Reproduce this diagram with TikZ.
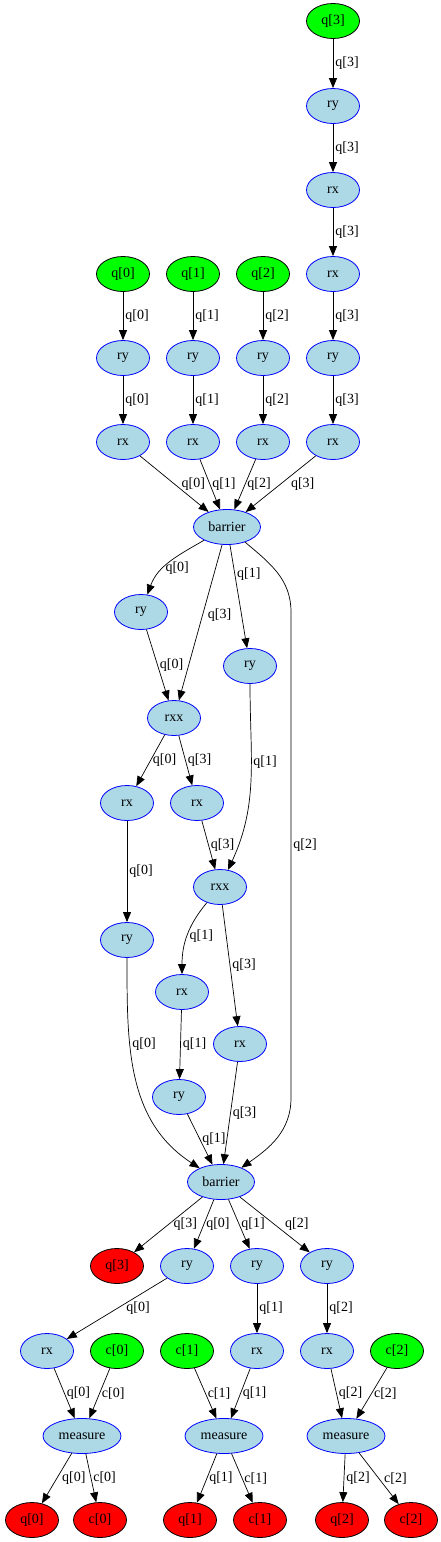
\documentclass[tikz,border=0pt]{standalone}
\usepackage{fontspec}
\setmainfont{Liberation Serif}
\usetikzlibrary{shapes.geometric,arrows.meta}
\definecolor{gatefill}{RGB}{173,216,230}
\definecolor{infill}{RGB}{0,255,0}
\definecolor{outfill}{RGB}{255,0,0}

\begin{document}
\begin{tikzpicture}[x=1pt, y=1pt, font=\fontsize{14}{16}\selectfont,
  op/.style={ellipse, minimum width=53pt, minimum height=35pt, inner sep=0pt, line width=0.8pt},
  gate/.style={op, draw=blue, fill=gatefill},
  qin/.style={op, draw=black, fill=infill},
  qout/.style={op, draw=black, fill=outfill},
  wire/.style={-{Triangle[length=10pt,width=8pt]}, line width=0.7pt},
  lbl/.style={anchor=west, inner sep=2pt}]
\useasboundingbox (0,0) rectangle (441,-1542);
\node [qin] (q3in) at (333,-21) {q[3]};
\node [gate] (ry3a) at (333,-106) {ry};
\node [gate] (rx3a) at (333,-190) {rx};
\node [gate] (rx3b) at (333,-274) {rx};
\node [qin] (q0in) at (123,-274) {q[0]};
\node [qin] (q1in) at (193,-274) {q[1]};
\node [qin] (q2in) at (263,-274) {q[2]};
\node [gate] (ry0) at (123,-358) {ry};
\node [gate] (ry1) at (193,-358) {ry};
\node [gate] (ry2) at (263,-358) {ry};
\node [gate] (ry3b) at (333,-358) {ry};
\node [gate] (rx0) at (123,-442) {rx};
\node [gate] (rx1) at (193,-442) {rx};
\node [gate] (rx2) at (263,-442) {rx};
\node [gate] (rx3c) at (333,-442) {rx};
\node [gate, minimum width=67pt] (bar1) at (227,-527) {barrier};
\node [gate] (ry0b) at (141,-612) {ry};
\node [gate] (ry1b) at (250,-666) {ry};
\node [gate] (rxx1) at (174,-718) {rxx};
\node [gate] (rx0b) at (127,-803) {rx};
\node [gate] (rx3d) at (197,-803) {rx};
\node [gate] (rxx2) at (220,-887) {rxx};
\node [gate] (ry0c) at (127,-940) {ry};
\node [gate] (rx1b) at (182,-992) {rx};
\node [gate] (rx3e) at (240,-1044) {rx};
\node [gate] (ry1c) at (179,-1097) {ry};
\node [gate, minimum width=67pt] (bar2) at (221,-1182) {barrier};
\node [qout] (q3out) at (117,-1266) {q[3]};
\node [gate] (ry0d) at (187,-1266) {ry};
\node [gate] (ry1d) at (257,-1266) {ry};
\node [gate] (ry2b) at (327,-1266) {ry};
\node [gate] (rx0c) at (47,-1351) {rx};
\node [qin] (c0in) at (117,-1351) {c[0]};
\node [qin] (c1in) at (187,-1351) {c[1]};
\node [gate] (rx1c) at (257,-1351) {rx};
\node [gate] (rx2b) at (327,-1351) {rx};
\node [qin] (c2in) at (397,-1351) {c[2]};
\node [gate, minimum width=78pt] (meas0) at (82,-1436) {measure};
\node [gate, minimum width=78pt] (meas1) at (224,-1436) {measure};
\node [gate, minimum width=78pt] (meas2) at (346,-1436) {measure};
\node [qout] (q0out) at (32,-1520) {q[0]};
\node [qout] (c0out) at (100,-1520) {c[0]};
\node [qout] (q1out) at (190,-1520) {q[1]};
\node [qout] (c1out) at (260,-1520) {c[1]};
\node [qout] (q2out) at (342,-1520) {q[2]};
\node [qout] (c2out) at (411,-1520) {c[2]};
\coordinate (q2top) at (291,-612);
\coordinate (q2bot) at (291,-1098);

\draw [wire] (q3in) -- node[lbl]{q[3]} (ry3a);
\draw [wire] (ry3a) -- node[lbl]{q[3]} (rx3a);
\draw [wire] (rx3a) -- node[lbl]{q[3]} (rx3b);
\draw [wire] (rx3b) -- node[lbl]{q[3]} (ry3b);
\draw [wire] (ry3b) -- node[lbl]{q[3]} (rx3c);
\draw [wire] (q0in) -- node[lbl]{q[0]} (ry0);
\draw [wire] (ry0) -- node[lbl]{q[0]} (rx0);
\draw [wire] (q1in) -- node[lbl]{q[1]} (ry1);
\draw [wire] (ry1) -- node[lbl]{q[1]} (rx1);
\draw [wire] (q2in) -- node[lbl]{q[2]} (ry2);
\draw [wire] (ry2) -- node[lbl]{q[2]} (rx2);
\draw [wire] (rx0) -- node[lbl, xshift=5pt]{q[0]} (bar1);
\draw [wire] (rx1) -- node[lbl]{q[1]} (bar1);
\draw [wire] (rx2) -- node[lbl]{q[2]} (bar1);
\draw [wire] (rx3c) -- node[lbl, xshift=8pt]{q[3]} (bar1);
\draw [wire] (bar1) to[out=-150, in=70] node[lbl, pos=0.62]{q[0]} (ry0b);
\draw [wire] (bar1) -- node[lbl, pos=0.45, xshift=3pt]{q[3]} (rxx1);
\draw [wire] (bar1) -- node[lbl, pos=0.28]{q[1]} (ry1b);
\draw [wire] (bar1) to[out=-40, in=90] (q2top) -- node[lbl, pos=0.48]{q[2]} (q2bot) to[out=-90, in=35] (bar2);
\draw [wire] (ry0b) -- node[lbl]{q[0]} (rxx1);
\draw [wire] (ry1b) to[out=-90, in=65] node[lbl, pos=0.4]{q[1]} (rxx2);
\draw [wire] (rxx1) -- node[lbl]{q[0]} (rx0b);
\draw [wire] (rxx1) -- node[lbl]{q[3]} (rx3d);
\draw [wire] (rx0b) -- node[lbl]{q[0]} (ry0c);
\draw [wire] (rx3d) -- node[lbl]{q[3]} (rxx2);
\draw [wire] (rxx2) to[out=-130, in=90] node[lbl]{q[1]} (rx1b);
\draw [wire] (rxx2) -- node[lbl]{q[3]} (rx3e);
\draw [wire] (rx1b) -- node[lbl]{q[1]} (ry1c);
\draw [wire] (ry0c) to[out=-90, in=147] node[lbl, pos=0.35]{q[0]} (bar2);
\draw [wire] (rx3e) -- node[lbl]{q[3]} (bar2);
\draw [wire] (ry1c) -- node[lbl]{q[1]} (bar2);
\draw [wire] (bar2) -- node[lbl, xshift=3pt]{q[3]} (q3out);
\draw [wire] (bar2) -- node[lbl]{q[0]} (ry0d);
\draw [wire] (bar2) -- node[lbl]{q[1]} (ry1d);
\draw [wire] (bar2) -- node[lbl, xshift=8pt]{q[2]} (ry2b);
\draw [wire] (ry0d) -- node[lbl, xshift=7pt]{q[0]} (rx0c);
\draw [wire] (ry1d) -- node[lbl]{q[1]} (rx1c);
\draw [wire] (ry2b) -- node[lbl]{q[2]} (rx2b);
\draw [wire] (rx0c) -- node[lbl]{q[0]} (meas0);
\draw [wire] (c0in) -- node[lbl]{c[0]} (meas0);
\draw [wire] (c1in) -- node[lbl]{c[1]} (meas1);
\draw [wire] (rx1c) -- node[lbl]{q[1]} (meas1);
\draw [wire] (rx2b) -- node[lbl]{q[2]} (meas2);
\draw [wire] (c2in) -- node[lbl]{c[2]} (meas2);
\draw [wire] (meas0) -- node[lbl, xshift=3pt]{q[0]} (q0out);
\draw [wire] (meas0) -- node[lbl]{c[0]} (c0out);
\draw [wire] (meas1) -- node[lbl]{q[1]} (q1out);
\draw [wire] (meas1) -- node[lbl]{c[1]} (c1out);
\draw [wire] (meas2) -- node[lbl]{q[2]} (q2out);
\draw [wire] (meas2) -- node[lbl, xshift=3pt]{c[2]} (c2out);
\end{tikzpicture}
\end{document}
